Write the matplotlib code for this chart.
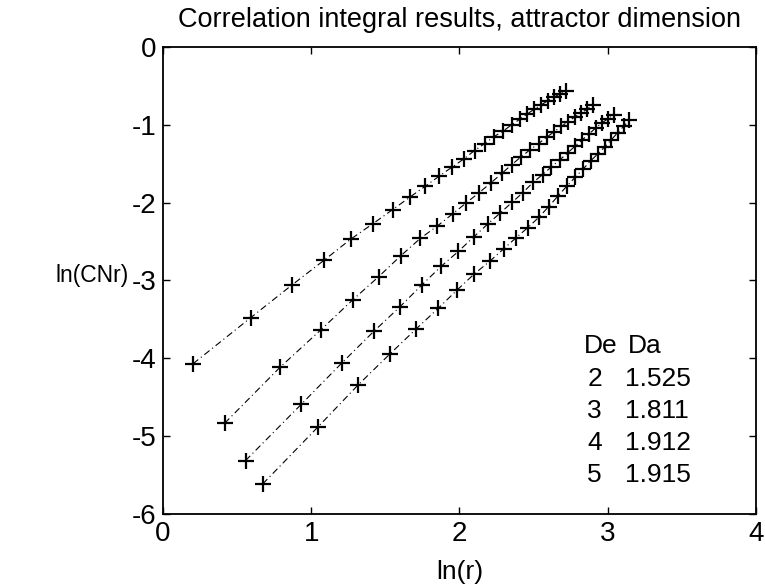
import matplotlib
matplotlib.use('Agg')
import matplotlib.pyplot as plt

plt.rcParams['font.family'] = ['Liberation Sans', 'DejaVu Sans']
plt.rcParams['axes.unicode_minus'] = False

# ln(r) / ln(CNr) 読み取り値 (De = 2..5)
x_de2 = [0.203, 0.591, 0.869, 1.087, 1.266, 1.417, 1.549, 1.665, 1.769, 1.863, 1.949, 2.029, 2.102,
         2.171, 2.235, 2.295, 2.352, 2.406, 2.457, 2.505, 2.551, 2.596, 2.638, 2.679, 2.718]
y_de2 = [-4.07, -3.48, -3.06, -2.74, -2.47, -2.27, -2.09, -1.93, -1.79, -1.66, -1.545, -1.44, -1.33,
         -1.24, -1.15, -1.08, -1.00, -0.93, -0.86, -0.80, -0.745, -0.69, -0.645, -0.60, -0.57]

x_de3 = [0.416, 0.793, 1.065, 1.280, 1.456, 1.606, 1.736, 1.851, 1.954, 2.048, 2.134, 2.213, 2.286,
         2.354, 2.417, 2.477, 2.534, 2.588, 2.638, 2.687, 2.733, 2.777, 2.819, 2.860, 2.899]
y_de3 = [-4.835, -4.11, -3.635, -3.25, -2.95, -2.68, -2.46, -2.30, -2.145, -2.00, -1.87, -1.745, -1.625,
         -1.51, -1.41, -1.32, -1.24, -1.16, -1.09, -1.02, -0.96, -0.90, -0.85, -0.80, -0.75]

x_de4 = [0.557, 0.934, 1.207, 1.422, 1.598, 1.748, 1.879, 1.994, 2.097, 2.191, 2.277, 2.356, 2.429,
         2.497, 2.561, 2.621, 2.677, 2.731, 2.782, 2.830, 2.876, 2.920, 2.962, 3.003, 3.042]
y_de4 = [-5.315, -4.59, -4.06, -3.655, -3.34, -3.055, -2.815, -2.625, -2.44, -2.275, -2.13, -1.995, -1.87,
         -1.74, -1.64, -1.54, -1.45, -1.36, -1.27, -1.19, -1.115, -1.04, -0.975, -0.92, -0.87]

x_de5 = [0.673, 1.047, 1.318, 1.531, 1.707, 1.856, 1.986, 2.101, 2.204, 2.298, 2.383, 2.462, 2.535,
         2.603, 2.667, 2.726, 2.783, 2.836, 2.887, 2.936, 2.982, 3.026, 3.068, 3.108, 3.147]
y_de5 = [-5.615, -4.88, -4.34, -3.945, -3.625, -3.36, -3.12, -2.915, -2.755, -2.595, -2.45, -2.32, -2.19,
         -2.05, -1.91, -1.785, -1.67, -1.565, -1.46, -1.37, -1.28, -1.19, -1.10, -1.02, -0.94]

de_list = ['2', '3', '4', '5']
da_list = ['1.525', '1.811', '1.912', '1.915']

fig = plt.figure(figsize=(7.65, 5.88), dpi=100)
ax = fig.add_axes([0.213, 0.126, 0.775, 0.794])

series = [(x_de2, y_de2), (x_de3, y_de3), (x_de4, y_de4), (x_de5, y_de5)]
for xs, ys in series:
    ax.plot(xs, ys, color='black', linestyle=(0, (6, 3, 1, 3)), linewidth=0.8)
    ax.plot(xs, ys, color='black', linestyle='none', marker='+', markersize=11, markeredgewidth=1.6)

ax.set_xlim(0, 4)
ax.set_ylim(-6, 0)
ax.set_xticks([0, 1, 2, 3, 4])
ax.set_yticks([-6, -5, -4, -3, -2, -1, 0])
ax.tick_params(direction='in', length=5, width=1, top=True, right=True, labelsize=20, pad=5)
for sp in ax.spines.values():
    sp.set_linewidth(1.3)

# タイトル・軸ラベル
ax.text(0.5, 1.058, 'Correlation integral results, attractor dimension', transform=ax.transAxes,
        ha='center', va='center', fontsize=19.5)
ax.set_xlabel('ln(r)', fontsize=19, va='center')
ax.xaxis.set_label_coords(0.5, -0.124)
ax.set_ylabel('ln(CNr)', fontsize=16.5, rotation=0, va='center', ha='center')
ax.yaxis.set_label_coords(-0.12, 0.51)

# De / Da の表
ax.text(0.71, 0.36, 'De', transform=ax.transAxes, fontsize=19, va='center')
ax.text(0.784, 0.36, 'Da', transform=ax.transAxes, fontsize=19, va='center')
for i in range(len(de_list)):
    yy = 0.29 - i * 0.069
    ax.text(0.716, yy, de_list[i], transform=ax.transAxes, fontsize=19, va='center')
    ax.text(0.78, yy, da_list[i], transform=ax.transAxes, fontsize=19, va='center')

fig.savefig('out.png', dpi=100)
